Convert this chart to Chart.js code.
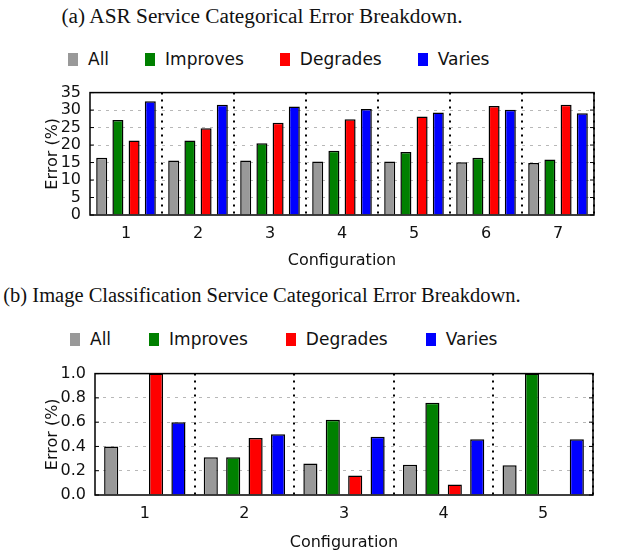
<!DOCTYPE html>
<html>
<head>
<meta charset="utf-8">
<script src="https://cdn.jsdelivr.net/npm/chart.js@4"></script>
<style>
  body { margin: 0; background: #fff; width: 620px; height: 554px; position: relative; overflow: hidden; }
  .caption { position: absolute; left: 0; width: 524px; text-align: center; font-family: "Liberation Serif", serif; font-size: 20.5px; color: #111; white-space: nowrap; }
  .legend { position: absolute; display: flex; align-items: center; font-family: "DejaVu Sans", sans-serif; font-size: 17px; color: #111; }
  .legend .item { display: flex; align-items: center; }
  .legend .box { width: 10px; height: 13px; margin-right: 10px; }
  .chart-wrap { position: absolute; left: 0; width: 620px; }
</style>
</head>
<body>
<div class="caption" style="top:4px; font-size:21.3px">(a) ASR Service Categorical Error Breakdown.</div>
<div class="legend" id="legend-a" style="top:49px; left:68px"></div>
<div class="chart-wrap" style="top:74px; height:198px"><canvas id="chartA"></canvas></div>

<div class="caption" style="top:284px">(b) Image Classification Service Categorical Error Breakdown.</div>
<div class="legend" id="legend-b" style="top:329px; left:70px"></div>
<div class="chart-wrap" style="top:355px; height:199px"><canvas id="chartB"></canvas></div>

<script>
// Series names and colours
const seriesNames = ["All", "Improves", "Degrades", "Varies"];
const seriesColors = ["#999999", "#008000", "#ff0000", "#0000ff"];

// (a) ASR service
const asrConfigs = ["1", "2", "3", "4", "5", "6", "7"];
const asrAll = [16.4, 15.6, 15.6, 15.3, 15.3, 15.1, 14.9];
const asrImproves = [27.2, 21.3, 20.5, 18.4, 18.0, 16.4, 15.9];
const asrDegrades = [21.3, 24.8, 26.4, 27.4, 28.2, 31.2, 31.5];
const asrVaries = [32.5, 31.5, 31.0, 30.3, 29.3, 30.1, 29.1];

// (b) Image classification service
const imgConfigs = ["1", "2", "3", "4", "5"];
const imgAll = [0.40, 0.31, 0.26, 0.25, 0.245];
const imgImproves = [0, 0.31, 0.62, 0.76, 1.0];
const imgDegrades = [1.0, 0.47, 0.16, 0.087, 0];
const imgVaries = [0.60, 0.50, 0.48, 0.46, 0.46];

const font = "'DejaVu Sans', sans-serif";

// Legend in HTML, built from the series names
function buildLegend(id, gap) {
    const el = document.getElementById(id);
    seriesNames.forEach((name, i) => {
        const item = document.createElement("div");
        item.className = "item";
        if (i < seriesNames.length - 1) item.style.marginRight = gap + "px";
        item.innerHTML = `<span class="box" style="background:${seriesColors[i]}"></span><span>${name}</span>`;
        el.appendChild(item);
    });
}

// Black frame round the plot plus inward y ticks
const framePlugin = {
    id: "frame",
    afterDraw(chart) {
        const { ctx, chartArea: a, scales } = chart;
        ctx.save();
        ctx.strokeStyle = "#000";
        ctx.lineWidth = 1.5;
        ctx.strokeRect(a.left, a.top, a.right - a.left, a.bottom - a.top);
        ctx.lineWidth = 1;
        scales.y.ticks.forEach((t, i) => {
            const y = scales.y.getPixelForTick(i);
            ctx.beginPath();
            ctx.moveTo(a.left, y); ctx.lineTo(a.left + 4, y);
            ctx.moveTo(a.right, y); ctx.lineTo(a.right - 4, y);
            ctx.stroke();
        });
        ctx.restore();
    }
};

function makeChart(id, labels, series, yMax, yStep, yWidth, xHeight, barPct, padRight, tickFmt) {
    return new Chart(document.getElementById(id), {
        type: "bar",
        data: {
            labels: labels,
            datasets: series.map((d, i) => ({
                label: seriesNames[i],
                data: d,
                backgroundColor: seriesColors[i],
                borderColor: "#000",
                borderWidth: 1.5,
                categoryPercentage: 0.9,
                barPercentage: barPct
            }))
        },
        options: {
            responsive: true,
            maintainAspectRatio: false,
            animation: false,
            devicePixelRatio: 1,
            layout: { padding: { left: 39, right: padRight, top: 10, bottom: 0 } },
            plugins: { legend: { display: false }, tooltip: { enabled: false } },
            scales: {
                x: {
                    afterFit: s => { s.height = xHeight; },
                    grid: {
                        offset: true,
                        drawTicks: false,
                        lineWidth: 2,
                        color: c => (c.index === 0 || c.index === labels.length) ? "rgba(0,0,0,0)" : "#000"
                    },
                    border: { display: false, dash: [2, 5] },
                    ticks: { color: "#111", font: { family: font, size: 16 }, padding: 9 },
                    title: {
                        display: true, text: "Configuration", color: "#111",
                        font: { family: font, size: 16 }, padding: { top: 4, bottom: 2 }
                    }
                },
                y: {
                    min: 0, max: yMax,
                    afterFit: s => { s.width = yWidth; },
                    grid: {
                        drawTicks: false,
                        lineWidth: 1,
                        color: c => (c.index === 0 || c.tick.value >= yMax) ? "rgba(0,0,0,0)" : "#b8b8b8"
                    },
                    border: { display: false, dash: [3, 5] },
                    ticks: {
                        stepSize: yStep, autoSkip: false, color: "#111", padding: 9,
                        font: { family: font, size: 16 },
                        callback: tickFmt
                    },
                    title: {
                        display: true, text: "Error (%)", color: "#111",
                        font: { family: font, size: 16 }, padding: { top: 4, bottom: 4 }
                    }
                }
            }
        },
        plugins: [framePlugin]
    });
}

buildLegend("legend-a", 36);
buildLegend("legend-b", 38);

makeChart("chartA", asrConfigs, [asrAll, asrImproves, asrDegrades, asrVaries],
    35, 5, 51, 57, 0.68, 26, v => v);
makeChart("chartB", imgConfigs, [imgAll, imgImproves, imgDegrades, imgVaries],
    1.0, 0.2, 56, 59, 0.63, 27, v => Number(v).toFixed(1));
</script>
</body>
</html>
